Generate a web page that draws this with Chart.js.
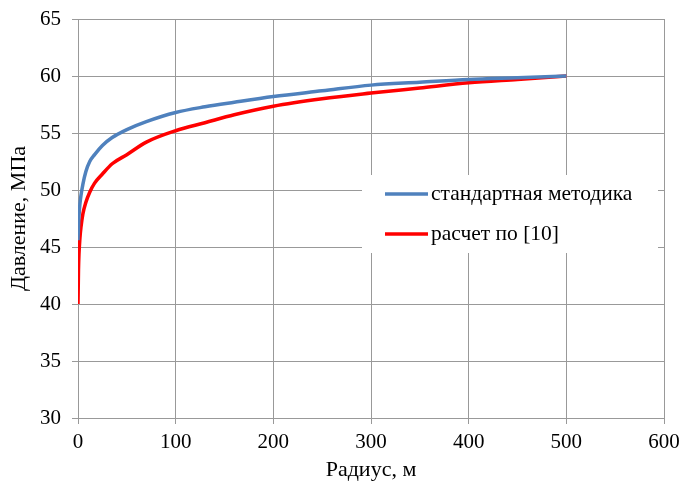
<!DOCTYPE html>
<html>
<head>
<meta charset="utf-8">
<script src="https://cdn.jsdelivr.net/npm/chart.js@4.4.0/dist/chart.umd.min.js"></script>
<style>
  html, body { margin: 0; padding: 0; background: #fff; }
  #wrap { width: 683px; height: 483px; position: relative; }
</style>
</head>
<body>
<div id="wrap"><canvas id="chart"></canvas></div>
<script>
// Radius, m
const radius = [0, 0.5, 1, 2, 3, 5, 8, 12, 17, 25, 35, 50, 70, 100, 130, 160, 200, 250, 300, 350, 400, 450, 500];
// Pressure, MPa
const standardSeries = [45.6, 46.8, 47.7, 48.8, 49.5, 50.5, 51.6, 52.5, 53.1, 53.9, 54.6, 55.3, 56.0, 56.8, 57.3, 57.7, 58.2, 58.7, 59.2, 59.45, 59.7, 59.85, 60];
const calcSeries = [40, 43.0, 44.4, 45.8, 46.7, 47.9, 48.9, 49.8, 50.6, 51.4, 52.3, 53.1, 54.2, 55.2, 55.9, 56.6, 57.35, 58.0, 58.5, 58.95, 59.4, 59.7, 60];
const seriesLabels = ['стандартная методика', 'расчет по [10]'];
const xTitle = 'Радиус, м';
const yTitle = 'Давление, МПа';

const FONT = "'Liberation Serif', 'Times New Roman', serif";
const gridColor = '#999999';

const toPoints = (ys) => radius.map((x, i) => ({ x: x, y: ys[i] }));

// legend drawn inside the plot area, on a white box
const innerLegend = {
    id: 'innerLegend',
    afterDatasetsDraw(chart) {
        const ctx = chart.ctx;
        ctx.save();
        ctx.fillStyle = '#fff';
        ctx.fillRect(362, 175, 296, 78);
        ctx.font = '21.5px ' + FONT;
        ctx.textBaseline = 'middle';
        chart.data.datasets.forEach((ds, i) => {
            const y = 194 + i * 40;
            ctx.strokeStyle = ds.borderColor;
            ctx.lineWidth = 3.5;
            ctx.beginPath();
            ctx.moveTo(385, y);
            ctx.lineTo(428, y);
            ctx.stroke();
            ctx.fillStyle = '#000';
            ctx.fillText(ds.label, 431, y);
        });
        ctx.restore();
    }
};

new Chart(document.getElementById('chart'), {
    type: 'scatter',
    data: {
        datasets: [
            {
                label: seriesLabels[0],
                data: toPoints(standardSeries),
                showLine: true,
                borderColor: '#4f81bd',
                borderWidth: 3.5,
                pointRadius: 0,
                cubicInterpolationMode: 'monotone'
            },
            {
                label: seriesLabels[1],
                data: toPoints(calcSeries),
                showLine: true,
                borderColor: '#ff0000',
                borderWidth: 3.5,
                pointRadius: 0,
                cubicInterpolationMode: 'monotone'
            }
        ]
    },
    options: {
        responsive: true,
        maintainAspectRatio: false,
        animation: false,
        layout: { padding: { top: 19, right: 19, left: 0, bottom: 0 } },
        plugins: {
            legend: { display: false },
            tooltip: { enabled: false }
        },
        scales: {
            x: {
                type: 'linear',
                min: 0, max: 600,
                ticks: { stepSize: 100, color: '#000', font: { family: FONT, size: 21 }, padding: 6 },
                grid: { color: gridColor, lineWidth: 1, tickLength: 6 },
                border: { color: gridColor },
                title: { display: true, text: xTitle, color: '#000', font: { family: FONT, size: 22 }, padding: { top: 0, bottom: 0 } },
                afterFit(scale) {
                    scale.height = 65;
                    scale.paddingLeft = 0;
                    scale.paddingRight = 0;
                }
            },
            y: {
                min: 30, max: 65,
                ticks: { stepSize: 5, color: '#000', font: { family: FONT, size: 21 }, padding: 11 },
                grid: { color: gridColor, lineWidth: 1, tickLength: 6 },
                border: { color: gridColor },
                title: { display: true, text: yTitle, color: '#000', font: { family: FONT, size: 22 }, padding: { top: 6, bottom: 0 } },
                afterFit(scale) {
                    scale.width = 78;
                    scale.paddingTop = 0;
                    scale.paddingBottom = 0;
                }
            }
        }
    },
    plugins: [innerLegend]
});
</script>
</body>
</html>
